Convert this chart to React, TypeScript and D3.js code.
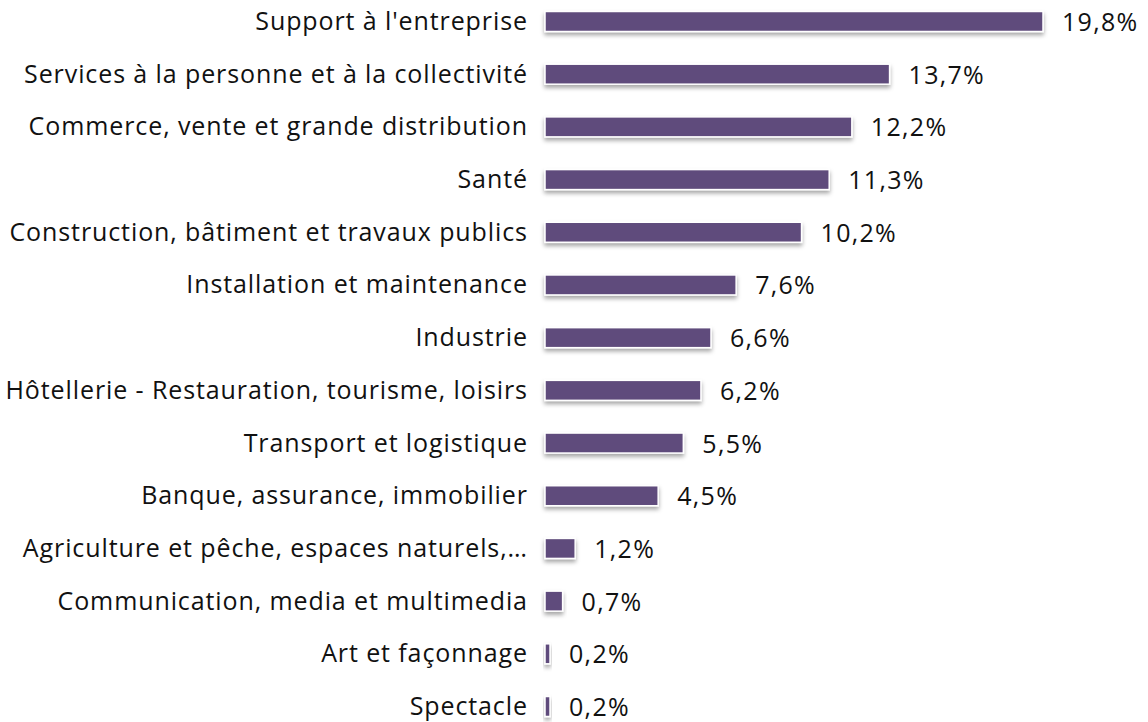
import React from "react";
import * as d3 from "d3";

const categories = [
  "Support à l'entreprise",
  "Services à la personne et à la collectivité",
  "Commerce, vente et grande distribution",
  "Santé",
  "Construction, bâtiment et travaux publics",
  "Installation et maintenance",
  "Industrie",
  "Hôtellerie - Restauration, tourisme, loisirs",
  "Transport et logistique",
  "Banque, assurance, immobilier",
  "Agriculture et pêche, espaces naturels,…",
  "Communication, media et multimedia",
  "Art et façonnage",
  "Spectacle",
];
const values = [19.8, 13.7, 12.2, 11.3, 10.2, 7.6, 6.6, 6.2, 5.5, 4.5, 1.2, 0.7, 0.2, 0.2];
const valueLabels = ["19,8%", "13,7%", "12,2%", "11,3%", "10,2%", "7,6%", "6,6%", "6,2%", "5,5%", "4,5%", "1,2%", "0,7%", "0,2%", "0,2%"];

const W = 1148;
const H = 722;
const x0 = 545;
const FONT = "'Open Sans', sans-serif";

export default function App() {
  const x = d3.scaleLinear().domain([0, 19.8]).range([x0, 1043]);
  const y = d3
    .scaleBand<string>()
    .domain(categories)
    .range([21.5 - 52.7 / 2, 706.5 + 52.7 / 2])
    .paddingInner(0)
    .paddingOuter(0);
  const barH = 20;
  return (
    <svg
      width={W}
      height={H}
      style={{ position: "absolute", left: 0, top: 0, background: "#fff" }}
    >
      <defs>
        <filter id="sh" x="-20%" y="-50%" width="140%" height="250%">
          <feDropShadow dx="0" dy="3" stdDeviation="2" floodColor="#000" floodOpacity="0.35" />
        </filter>
      </defs>
      {categories.map((c, i) => {
        const cy = (y(c) as number) + y.bandwidth() / 2;
        const xe = x(values[i]);
        return (
          <g key={c}>
            <rect
              x={x0}
              y={cy - barH / 2}
              width={Math.max(xe - x0, 1)}
              height={barH}
              fill="#5f4b7b"
              stroke="#fff"
              strokeWidth={1.5}
              filter="url(#sh)"
            />
            <text
              x={527.9}
              y={cy}
              dy="0.34em"
              textAnchor="end"
              fontFamily={FONT}
              fontSize={25}
              letterSpacing={0.9}
              fill="#111"
            >
              {c}
            </text>
            <text
              x={xe + 19}
              y={cy}
              dy="0.38em"
              fontFamily={FONT}
              fontSize={25}
              letterSpacing={1.3}
              fill="#111"
            >
              {valueLabels[i]}
            </text>
          </g>
        );
      })}
    </svg>
  );
}
